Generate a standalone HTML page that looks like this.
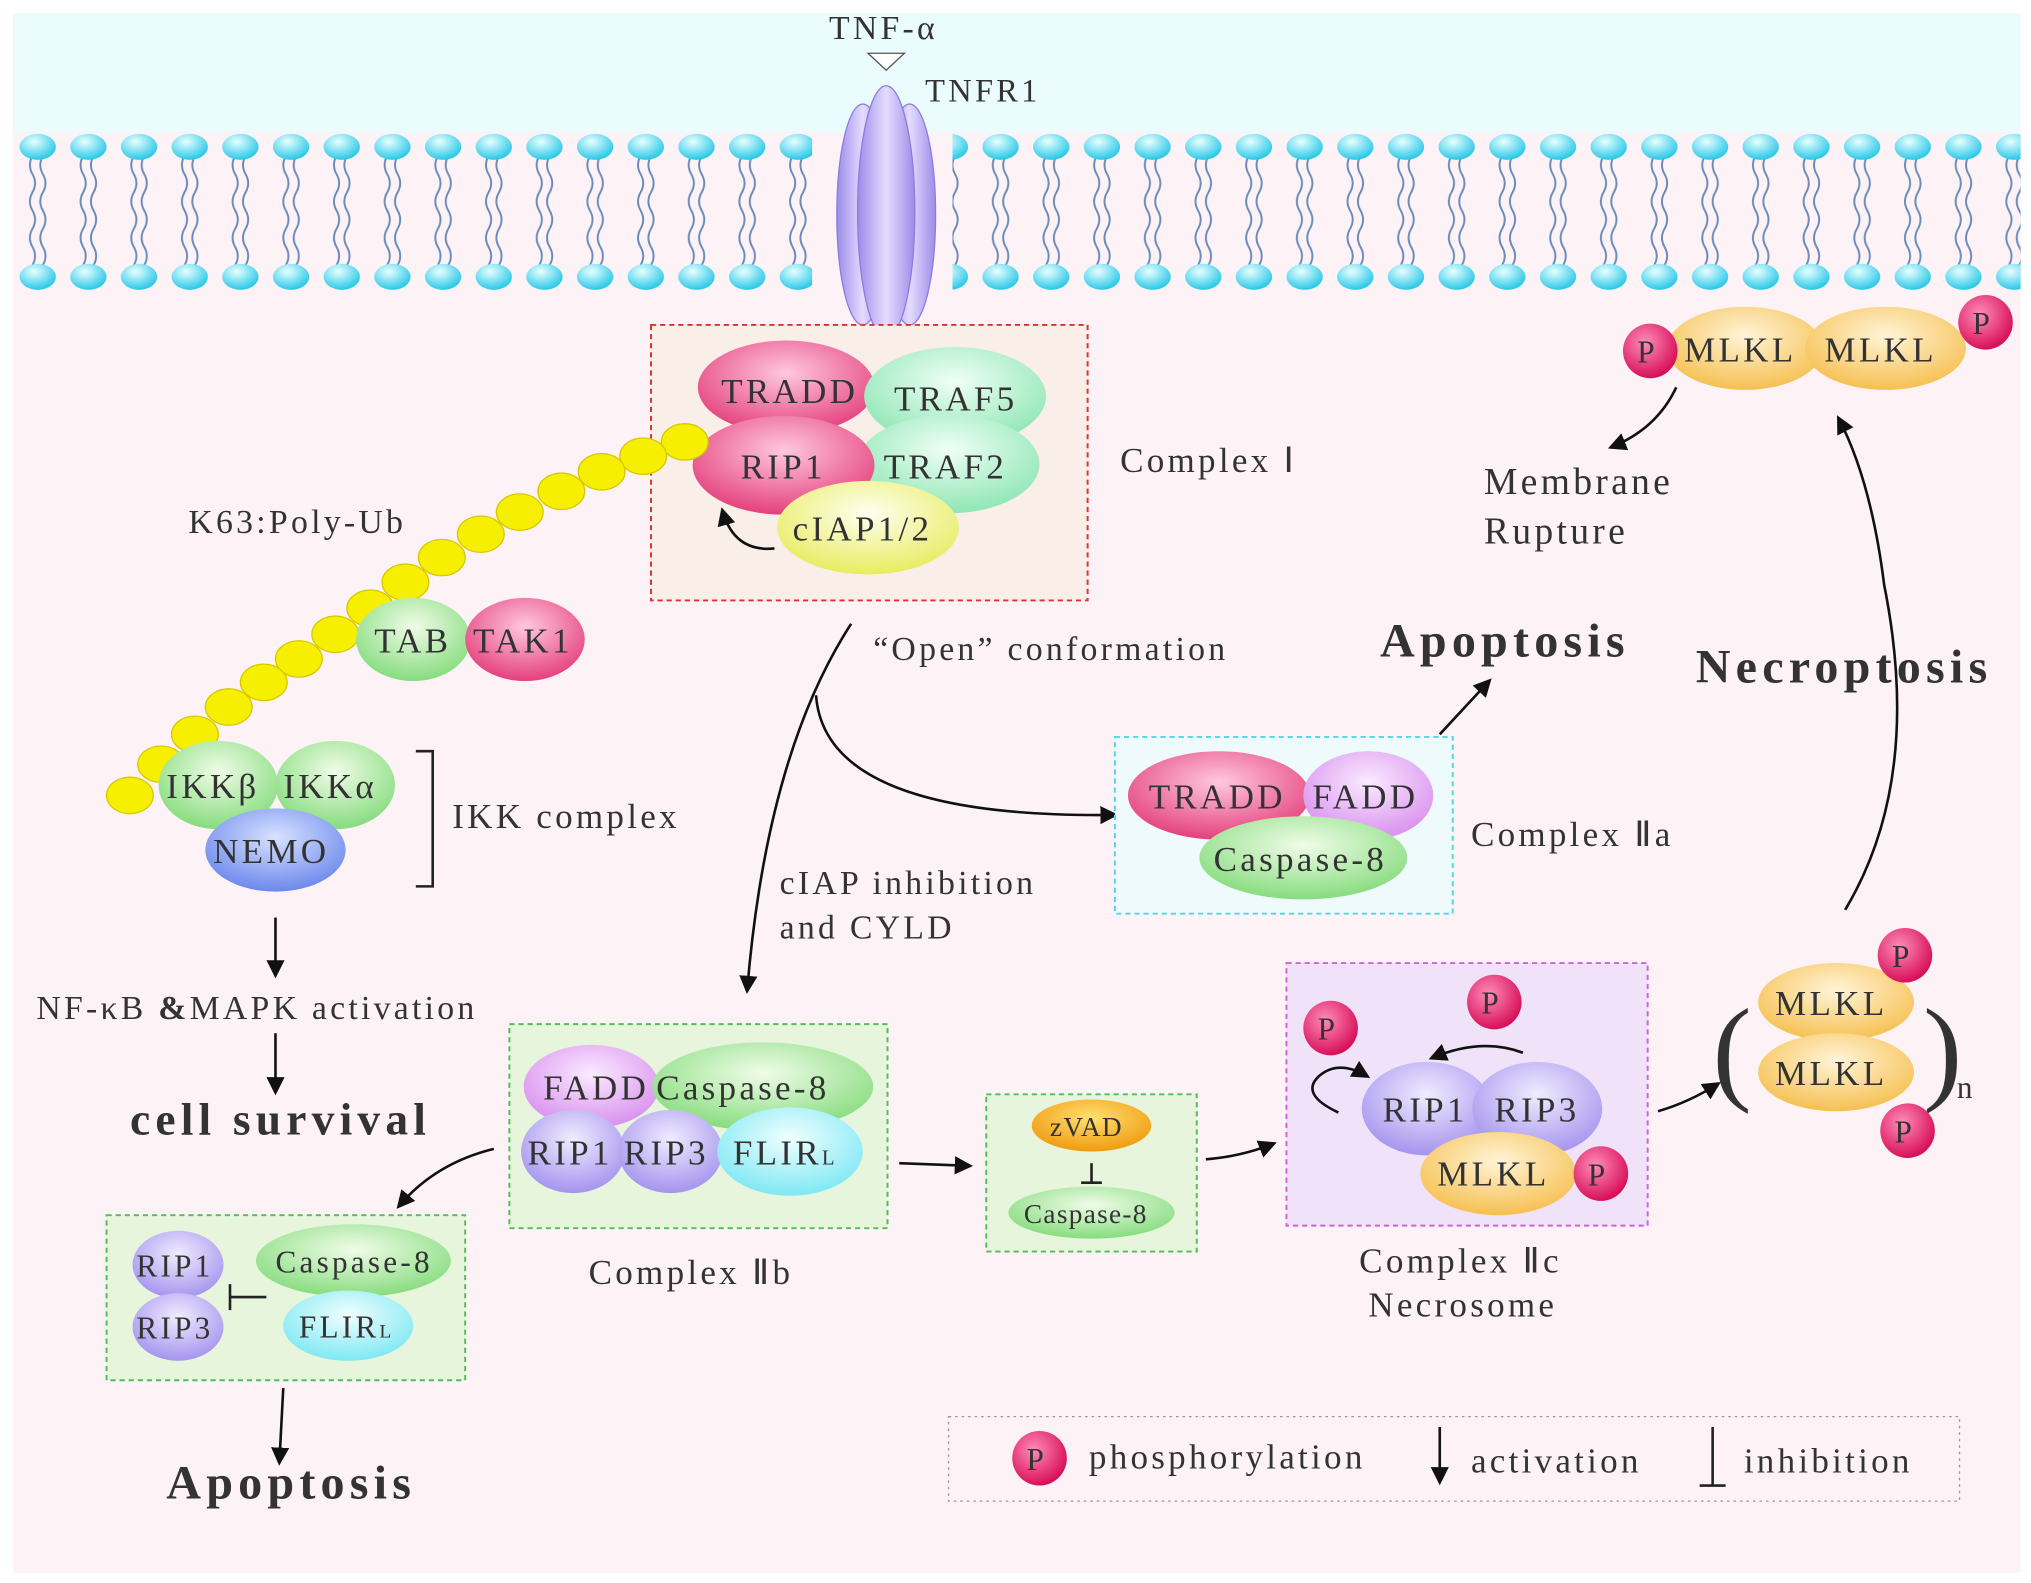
<!DOCTYPE html>
<html><head><meta charset="utf-8"><style>
html,body{margin:0;padding:0;background:#fff}
svg{display:block}
text{font-family:"Liberation Serif",serif;fill:#333;letter-spacing:2.5px}
text[font-weight="bold"]{letter-spacing:4px}
.sm{letter-spacing:1px}
</style></head><body>
<svg width="2031" height="1583" viewBox="0 0 1563 1218" preserveAspectRatio="none" xmlns="http://www.w3.org/2000/svg">
<defs>
<radialGradient id="pk" cx="50%" cy="35%" r="65%"><stop offset="0" stop-color="#ffc8de"/><stop offset="1" stop-color="#e4407c"/></radialGradient>
<radialGradient id="gr" cx="50%" cy="35%" r="65%"><stop offset="0" stop-color="#f0fce8"/><stop offset="1" stop-color="#86dc7e"/></radialGradient>
<radialGradient id="mt" cx="50%" cy="35%" r="65%"><stop offset="0" stop-color="#f0fff6"/><stop offset="1" stop-color="#8ee6b4"/></radialGradient>
<radialGradient id="yl" cx="50%" cy="35%" r="65%"><stop offset="0" stop-color="#fffff0"/><stop offset="1" stop-color="#e8ec60"/></radialGradient>
<radialGradient id="pu" cx="50%" cy="35%" r="65%"><stop offset="0" stop-color="#f0ecff"/><stop offset="1" stop-color="#a494ee"/></radialGradient>
<radialGradient id="pp" cx="50%" cy="35%" r="65%"><stop offset="0" stop-color="#fbeaff"/><stop offset="1" stop-color="#d890ee"/></radialGradient>
<radialGradient id="bl" cx="50%" cy="35%" r="65%"><stop offset="0" stop-color="#d8e2ff"/><stop offset="1" stop-color="#6c88ec"/></radialGradient>
<radialGradient id="cy" cx="50%" cy="35%" r="65%"><stop offset="0" stop-color="#f0ffff"/><stop offset="1" stop-color="#7ee8f4"/></radialGradient>
<radialGradient id="or" cx="50%" cy="35%" r="65%"><stop offset="0" stop-color="#fff4d8"/><stop offset="1" stop-color="#f6c050"/></radialGradient>
<radialGradient id="zv" cx="50%" cy="35%" r="65%"><stop offset="0" stop-color="#ffe070"/><stop offset="1" stop-color="#f09a10"/></radialGradient>
<radialGradient id="rd" cx="40%" cy="35%" r="65%"><stop offset="0" stop-color="#ff8cb8"/><stop offset="1" stop-color="#d8105a"/></radialGradient>
<radialGradient id="hd" cx="40%" cy="30%" r="70%"><stop offset="0" stop-color="#e8ffff"/><stop offset="1" stop-color="#28c8e8"/></radialGradient>
<linearGradient id="rc" x1="0" x2="1"><stop offset="0" stop-color="#9c8ce8"/><stop offset=".5" stop-color="#e4dcff"/><stop offset="1" stop-color="#9c8ce8"/></linearGradient>
<pattern id="lip" x="10" y="0" width="39" height="240" patternUnits="userSpaceOnUse">
<path d="M15 120 q-4 7 0 14 q4 7 0 14 q-4 7 0 14 q4 7 0 14 q-4 7 0 14 q4 7 0 14 M23 120 q-4 7 0 14 q4 7 0 14 q-4 7 0 14 q4 7 0 14 q-4 7 0 14 q4 7 0 14" stroke="#6a8ab8" stroke-width="1.5" fill="none"/>
<ellipse cx="19" cy="113" rx="14" ry="10" fill="url(#hd)"/>
<ellipse cx="19" cy="213" rx="14" ry="10" fill="url(#hd)"/>
</pattern>
<marker id="ar" viewBox="0 0 10 10" refX="8" refY="5" markerWidth="7" markerHeight="7" orient="auto"><path d="M0 0 L10 5 L0 10 z" fill="#111"/></marker>
</defs>
<rect x="10" y="10" width="1545" height="1200" fill="#fdf3f7"/>
<rect x="10" y="10" width="1545" height="92" fill="#eafcfd"/>
<rect x="10" y="100" width="615" height="130" fill="url(#lip)"/>
<rect x="733" y="100" width="822" height="130" fill="url(#lip)"/>
<text x="638" y="30" font-size="26">TNF-α</text>
<path d="M668 41 L696 41 L682 54 z" fill="#fff" stroke="#555"/>
<text x="712" y="78" font-size="25">TNFR1</text>
<ellipse cx="664" cy="165" rx="20" ry="85" fill="url(#rc)" stroke="#8c7ce0"/>
<ellipse cx="700" cy="165" rx="20" ry="85" fill="url(#rc)" stroke="#8c7ce0"/>
<ellipse cx="682" cy="163" rx="22" ry="97" fill="url(#rc)" stroke="#8c7ce0"/>
<!-- Complex I -->
<rect x="501" y="250" width="336" height="212" fill="#f9efe8" stroke="#e03030" stroke-dasharray="4 3" stroke-width="1.5"/>
<ellipse cx="605" cy="298" rx="68" ry="36" fill="url(#pk)"/>
<ellipse cx="735" cy="305" rx="70" ry="38" fill="url(#mt)"/>
<ellipse cx="730" cy="357" rx="70" ry="38" fill="url(#mt)"/>
<ellipse cx="603" cy="358" rx="70" ry="38" fill="url(#pk)"/>
<ellipse cx="668" cy="406" rx="70" ry="36" fill="url(#yl)"/>
<text x="555" y="310" font-size="27">TRADD</text>
<text x="688" y="316" font-size="27">TRAF5</text>
<text x="680" y="368" font-size="27">TRAF2</text>
<text x="570" y="368" font-size="27">RIP1</text>
<text x="610" y="416" font-size="27">cIAP1/2</text>
<path d="M596 422 Q565 425 556 393" fill="none" stroke="#111" stroke-width="2" marker-end="url(#ar)"/>
<text x="862" y="363" font-size="27">Complex Ⅰ</text>
<!-- Ub chain -->
<g fill="#f6f000" stroke="#d8c800">
<ellipse cx="527" cy="340" rx="18" ry="14"/><ellipse cx="495" cy="351" rx="18" ry="14"/><ellipse cx="463" cy="363" rx="18" ry="14"/><ellipse cx="432" cy="378" rx="18" ry="14"/><ellipse cx="400" cy="394" rx="18" ry="14"/><ellipse cx="370" cy="411" rx="18" ry="14"/><ellipse cx="340" cy="429" rx="18" ry="14"/><ellipse cx="312" cy="448" rx="18" ry="14"/><ellipse cx="285" cy="468" rx="18" ry="14"/><ellipse cx="258" cy="488" rx="18" ry="14"/><ellipse cx="230" cy="507" rx="18" ry="14"/><ellipse cx="203" cy="525" rx="18" ry="14"/><ellipse cx="176" cy="544" rx="18" ry="14"/><ellipse cx="150" cy="565" rx="18" ry="14"/><ellipse cx="124" cy="588" rx="18" ry="14"/><ellipse cx="100" cy="612" rx="18" ry="14"/>
</g>
<text x="145" y="410" font-size="26">K63:Poly-Ub</text>
<ellipse cx="318" cy="492" rx="44" ry="32" fill="url(#gr)"/>
<ellipse cx="404" cy="492" rx="46" ry="32" fill="url(#pk)"/>
<text x="288" y="502" font-size="27">TAB</text>
<text x="364" y="502" font-size="27">TAK1</text>
<ellipse cx="168" cy="604" rx="46" ry="34" fill="url(#gr)"/>
<ellipse cx="258" cy="604" rx="46" ry="34" fill="url(#gr)"/>
<ellipse cx="212" cy="654" rx="54" ry="32" fill="url(#bl)"/>
<text x="128" y="614" font-size="27">IKKβ</text>
<text x="218" y="614" font-size="27">IKKα</text>
<text x="164" y="664" font-size="27">NEMO</text>
<path d="M320 578 L333 578 L333 682 L320 682" fill="none" stroke="#222" stroke-width="2"/>
<text x="348" y="637" font-size="27">IKK complex</text>
<line x1="212" y1="706" x2="212" y2="750" stroke="#111" stroke-width="2" marker-end="url(#ar)"/>
<text x="28" y="784" font-size="26">NF-κB <tspan font-weight="bold">&amp;</tspan>MAPK  activation</text>
<line x1="212" y1="795" x2="212" y2="840" stroke="#111" stroke-width="2" marker-end="url(#ar)"/>
<text x="100" y="873" font-size="35" font-weight="bold" fill="#111">cell survival</text>
<!-- open conformation -->
<path d="M655 480 Q590 580 575 762" fill="none" stroke="#111" stroke-width="2" marker-end="url(#ar)"/>
<path d="M628 535 Q635 630 858 627" fill="none" stroke="#111" stroke-width="2" marker-end="url(#ar)"/>
<text x="672" y="508" font-size="26">“Open” conformation</text>
<text x="600" y="688" font-size="26">cIAP  inhibition</text>
<text x="600" y="722" font-size="26">and  CYLD</text>
<!-- IIa -->
<rect x="858" y="567" width="260" height="136" fill="#eefafc" stroke="#50d8e8" stroke-dasharray="4 3" stroke-width="1.5"/>
<ellipse cx="938" cy="612" rx="70" ry="34" fill="url(#pk)"/>
<ellipse cx="1053" cy="612" rx="50" ry="34" fill="url(#pp)"/>
<ellipse cx="1003" cy="660" rx="80" ry="32" fill="url(#gr)"/>
<text x="884" y="622" font-size="27">TRADD</text>
<text x="1010" y="622" font-size="27">FADD</text>
<text x="934" y="670" font-size="27">Caspase-8</text>
<text x="1132" y="651" font-size="27">Complex Ⅱa</text>
<path d="M1108 565 L1146 524" stroke="#111" stroke-width="2" marker-end="url(#ar)"/>
<text x="1062" y="505" font-size="37" font-weight="bold" fill="#111">Apoptosis</text>
<!-- IIb -->
<rect x="392" y="788" width="291" height="157" fill="#e6f5dc" stroke="#50c050" stroke-dasharray="4 3" stroke-width="1.5"/>
<ellipse cx="455" cy="836" rx="52" ry="32" fill="url(#pp)"/>
<ellipse cx="587" cy="836" rx="85" ry="34" fill="url(#gr)"/>
<ellipse cx="441" cy="886" rx="40" ry="32" fill="url(#pu)"/>
<ellipse cx="516" cy="886" rx="40" ry="32" fill="url(#pu)"/>
<ellipse cx="608" cy="886" rx="56" ry="34" fill="url(#cy)"/>
<text x="418" y="846" font-size="27">FADD</text>
<text x="505" y="846" font-size="27">Caspase-8</text>
<text x="406" y="896" font-size="27">RIP1</text>
<text x="480" y="896" font-size="27">RIP3</text>
<text x="564" y="896" font-size="27">FLIR<tspan font-size="16">L</tspan></text>
<text x="453" y="988" font-size="27">Complex Ⅱb</text>
<path d="M380 884 Q335 895 307 928" fill="none" stroke="#111" stroke-width="2" marker-end="url(#ar)"/>
<rect x="82" y="935" width="276" height="127" fill="#e6f5dc" stroke="#50c050" stroke-dasharray="4 3" stroke-width="1.5"/>
<ellipse cx="137" cy="973" rx="35" ry="26" fill="url(#pu)"/>
<ellipse cx="137" cy="1021" rx="35" ry="26" fill="url(#pu)"/>
<ellipse cx="272" cy="970" rx="75" ry="28" fill="url(#gr)"/>
<ellipse cx="268" cy="1020" rx="50" ry="27" fill="url(#cy)"/>
<text x="105" y="982" font-size="24">RIP1</text>
<text x="105" y="1030" font-size="24">RIP3</text>
<text x="212" y="979" font-size="24">Caspase-8</text>
<text x="230" y="1029" font-size="24">FLIR<tspan font-size="15">L</tspan></text>
<path d="M205 998 L177 998 M177 988 L177 1008" stroke="#222" stroke-width="2"/>
<line x1="218" y1="1068" x2="215" y2="1125" stroke="#111" stroke-width="2" marker-end="url(#ar)"/>
<text x="128" y="1153" font-size="37" font-weight="bold" fill="#111">Apoptosis</text>
<!-- zVAD -->
<line x1="692" y1="895" x2="746" y2="897" stroke="#111" stroke-width="2" marker-end="url(#ar)"/>
<rect x="759" y="842" width="162" height="121" fill="#e6f5dc" stroke="#50c050" stroke-dasharray="4 3" stroke-width="1.5"/>
<ellipse cx="840" cy="866" rx="46" ry="20" fill="url(#zv)"/>
<ellipse cx="840" cy="933" rx="64" ry="20" fill="url(#gr)"/>
<text class="sm" x="808" y="874" font-size="21" fill="#fff">zVAD</text>
<text class="sm" x="788" y="941" font-size="21">Caspase-8</text>
<path d="M840 895 L840 910 M832 910 L848 910" stroke="#222" stroke-width="2"/>
<path d="M928 892 Q955 890 980 880" fill="none" stroke="#111" stroke-width="2" marker-end="url(#ar)"/>
<!-- IIc -->
<rect x="990" y="741" width="278" height="202" fill="#f0e2f8" stroke="#d060e0" stroke-dasharray="4 3" stroke-width="1.5"/>
<ellipse cx="1098" cy="853" rx="50" ry="36" fill="url(#pu)"/>
<ellipse cx="1183" cy="853" rx="50" ry="36" fill="url(#pu)"/>
<ellipse cx="1153" cy="903" rx="60" ry="32" fill="url(#or)"/>
<text x="1064" y="863" font-size="27">RIP1</text>
<text x="1150" y="863" font-size="27">RIP3</text>
<text x="1106" y="912" font-size="27">MLKL</text>
<g>
<circle cx="1024" cy="791" r="21" fill="url(#rd)"/><text x="1014" y="800" font-size="24">P</text>
<circle cx="1150" cy="771" r="21" fill="url(#rd)"/><text x="1140" y="780" font-size="24">P</text>
<circle cx="1232" cy="903" r="21" fill="url(#rd)"/><text x="1222" y="912" font-size="24">P</text>
</g>
<path d="M1030 856 Q1000 842 1015 828 Q1030 815 1052 828" fill="none" stroke="#111" stroke-width="2" marker-end="url(#ar)"/>
<path d="M1172 810 Q1140 798 1102 814" fill="none" stroke="#111" stroke-width="2" marker-end="url(#ar)"/>
<text x="1046" y="979" font-size="27">Complex Ⅱc</text>
<text x="1053" y="1013" font-size="27">Necrosome</text>
<path d="M1276 855 Q1300 848 1322 834" fill="none" stroke="#111" stroke-width="2" marker-end="url(#ar)"/>
<text x="1318" y="838" font-size="90" fill="#222">(</text>
<text x="1480" y="838" font-size="90" fill="#222">)</text>
<text x="1506" y="845" font-size="24">n</text>
<ellipse cx="1413" cy="771" rx="60" ry="30" fill="url(#or)"/>
<ellipse cx="1413" cy="825" rx="60" ry="30" fill="url(#or)"/>
<text x="1366" y="781" font-size="27">MLKL</text>
<text x="1366" y="835" font-size="27">MLKL</text>
<circle cx="1466" cy="735" r="21" fill="url(#rd)"/><text x="1456" y="744" font-size="24">P</text>
<circle cx="1468" cy="870" r="21" fill="url(#rd)"/><text x="1458" y="879" font-size="24">P</text>
<path d="M1420 700 Q1480 600 1450 450 Q1440 370 1415 322" fill="none" stroke="#111" stroke-width="2" marker-end="url(#ar)"/>
<text x="1305" y="525" font-size="37" font-weight="bold" fill="#111">Necroptosis</text>
<!-- top MLKL -->
<ellipse cx="1343" cy="268" rx="60" ry="32" fill="url(#or)"/>
<ellipse cx="1451" cy="268" rx="62" ry="32" fill="url(#or)"/>
<text x="1296" y="278" font-size="27">MLKL</text>
<text x="1404" y="278" font-size="27">MLKL</text>
<circle cx="1270" cy="270" r="21" fill="url(#rd)"/><text x="1260" y="279" font-size="24">P</text>
<circle cx="1528" cy="248" r="21" fill="url(#rd)"/><text x="1518" y="257" font-size="24">P</text>
<path d="M1290 298 Q1275 330 1240 344" fill="none" stroke="#111" stroke-width="2" marker-end="url(#ar)"/>
<text x="1142" y="380" font-size="29">Membrane</text>
<text x="1142" y="418" font-size="29">Rupture</text>
<!-- legend -->
<rect x="730" y="1090" width="778" height="65" fill="none" stroke="#999" stroke-dasharray="2 3"/>
<circle cx="800" cy="1122" r="21" fill="url(#rd)"/><text x="790" y="1131" font-size="24">P</text>
<text x="838" y="1130" font-size="27">phosphorylation</text>
<line x1="1108" y1="1098" x2="1108" y2="1140" stroke="#111" stroke-width="2" marker-end="url(#ar)"/>
<text x="1132" y="1133" font-size="27">activation</text>
<path d="M1318 1098 L1318 1143 M1308 1143 L1328 1143" stroke="#222" stroke-width="2"/>
<text x="1342" y="1133" font-size="27">inhibition</text>
</svg>
</body></html>
